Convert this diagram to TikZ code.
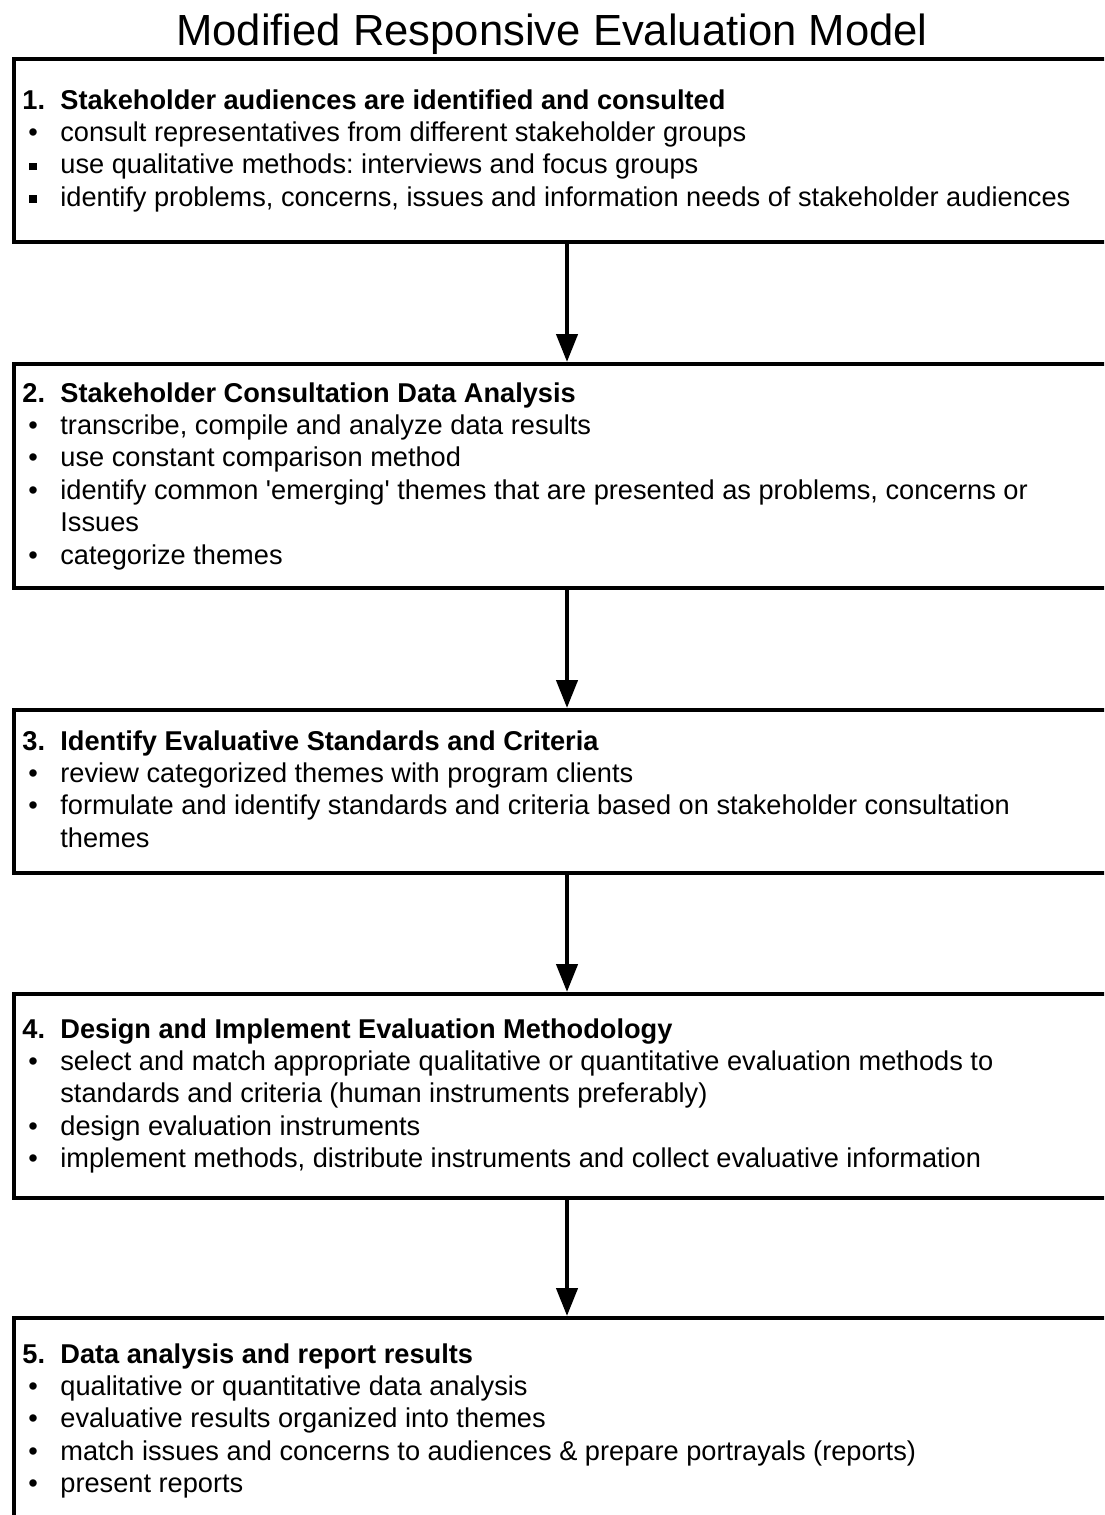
\documentclass[tikz,border=0pt]{standalone}
\usepackage{fontspec}
\setmainfont{Liberation Sans}
\usetikzlibrary{arrows.meta}
\frenchspacing

% 箇条書きの記号
\newcommand{\rbul}{\hspace*{3pt}\textbullet}
\newcommand{\sbul}{\hspace*{3.5pt}\rule[1.8pt]{3.6pt}{3.6pt}}
\newenvironment{steptext}{\fontsize{13.6pt}{16.2pt}\selectfont\begin{tabular}[t]{@{}p{19pt}@{}l@{}}}{\end{tabular}}

\begin{document}
\begin{tikzpicture}[x=0.5pt,y=-0.5pt,
  stepbox/.style={draw,line width=2pt,inner sep=0pt,anchor=north west,minimum width=553pt},
  steplabel/.style={inner sep=0pt,anchor=base west},
  flowarr/.style={line width=2.2pt,-{Triangle[length=14pt,width=10.5pt]}}]
   \useasboundingbox (0,0) rectangle (1104,1515);
   \clip (0,0) rectangle (1104,1515);

   % タイトル
   \node [inner sep=0pt,anchor=base] (title) at (552,45)
     {\fontsize{21.8pt}{26pt}\selectfont Modified Responsive Evaluation Model};

   % 枠
   \node [stepbox,minimum height=91.5pt] (b1) at (12,57) {};
   \node [stepbox,minimum height=112pt] (b2) at (12,362) {};
   \node [stepbox,minimum height=81.5pt] (b3) at (12,708) {};
   \node [stepbox,minimum height=102pt] (b4) at (12,992) {};
   \node [stepbox,minimum height=112pt] (b5) at (12,1316) {};

   % 本文
   \node [steplabel] (t1) at (22,109) {\begin{steptext}
     \textbf{1.} & \textbf{Stakeholder audiences are identified and consulted}\\
     \rbul & consult representatives from different stakeholder groups\\
     \sbul & use qualitative methods: interviews and focus groups\\
     \sbul & identify problems, concerns, issues and information needs of stakeholder audiences\\
   \end{steptext}};
   \node [steplabel] (t2) at (22,402) {\begin{steptext}
     \textbf{2.} & \textbf{Stakeholder Consultation Data Analysis}\\
     \rbul & transcribe, compile and analyze data results\\
     \rbul & use constant comparison method\\
     \rbul & identify common \textquotesingle emerging\textquotesingle{} themes that are presented as problems, concerns or\\
           & Issues\\
     \rbul & categorize themes\\
   \end{steptext}};
   \node [steplabel] (t3) at (22,750) {\begin{steptext}
     \textbf{3.} & \textbf{Identify Evaluative Standards and Criteria}\\
     \rbul & review categorized themes with program clients\\
     \rbul & formulate and identify standards and criteria based on stakeholder consultation\\
           & themes\\
   \end{steptext}};
   \node [steplabel] (t4) at (22,1038) {\begin{steptext}
     \textbf{4.} & \textbf{Design and Implement Evaluation Methodology}\\
     \rbul & select and match appropriate qualitative or quantitative evaluation methods to\\
           & standards and criteria (human instruments preferably)\\
     \rbul & design evaluation instruments\\
     \rbul & implement methods, distribute instruments and collect evaluative information\\
   \end{steptext}};
   \node [steplabel] (t5) at (22,1363) {\begin{steptext}
     \textbf{5.} & \textbf{Data analysis and report results}\\
     \rbul & qualitative or quantitative data analysis\\
     \rbul & evaluative results organized into themes\\
     \rbul & match issues and concerns to audiences \& prepare portrayals (reports)\\
     \rbul & present reports\\
   \end{steptext}};

   % 矢印
   \draw [flowarr] (b1.south) -- (b2.north);
   \draw [flowarr] (b2.south) -- (b3.north);
   \draw [flowarr] (b3.south) -- (b4.north);
   \draw [flowarr] (b4.south) -- (b5.north);
\end{tikzpicture}
\end{document}
